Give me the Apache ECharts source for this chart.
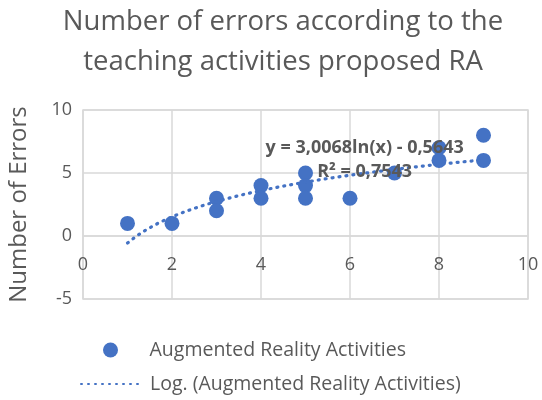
<!DOCTYPE html>
<html><head><meta charset="utf-8">
<script src="https://cdn.jsdelivr.net/npm/echarts@6/dist/echarts.min.js"></script>
<style>html,body{margin:0;padding:0;background:#fff}#c{width:542px;height:400px}</style>
</head><body><div id="c"></div>
<script>
// Data
const activityX = [1, 2, 3, 3, 4, 4, 5, 5, 5, 6, 7, 8, 8, 9, 9];
const errorsY   = [1, 1, 3, 2, 4, 3, 5, 4, 3, 3, 5, 7, 6, 8, 6];
const xTicks = [0, 2, 4, 6, 8, 10];
const yTicks = [-5, 0, 5, 10];
// Trendline coefficients as printed on the chart
const trendA = 3.0068;
const trendB = -0.5643;
const trendR2 = 0.7543;
const titleLines = ['Number of errors according to the', 'teaching activities proposed RA'];
const seriesName = 'Augmented Reality Activities';
const trendName = 'Log. (Augmented Reality Activities)';

const fmt = v => v.toFixed(4).replace('.', ',');
const xMin = Math.min(...activityX), xMax = Math.max(...activityX);
const trendData = [];
for (let i = 0; i <= 80; i++) {
  const x = xMin + (xMax - xMin) * i / 80;
  trendData.push([x, trendA * Math.log(x) + trendB]);
}
const FONT = 'Open Sans';
const GRAY = '#595959';
const BLUE = '#4472C4';
const chart = echarts.init(document.getElementById('c'), null, {renderer: 'canvas'});
const legendText = {fontSize: 19.5, color: GRAY, fontFamily: FONT, padding: [0, 0, 0, 4]};
chart.setOption({
  animation: false,
  textStyle: {fontFamily: FONT},
  graphic: [
    {type: 'text', x: 283, y: 22, style: {text: titleLines[0], align: 'center', verticalAlign: 'middle', font: '27.5px "' + FONT + '"', fill: GRAY}},
    {type: 'text', x: 283, y: 62, style: {text: titleLines[1], align: 'center', verticalAlign: 'middle', font: '27.5px "' + FONT + '"', fill: GRAY}}
  ],
  grid: {left: 83, top: 110, right: 14, bottom: 101, show: true, borderColor: '#d9d9d9', borderWidth: 1.5, outerBoundsMode: 'none', containLabel: false},
  legend: [
    {left: 103, top: 340, padding: 0, itemWidth: 60, itemHeight: 15, textStyle: legendText,
     data: [{name: seriesName, icon: 'circle'}]},
    {left: 80, top: 374, padding: 0, itemWidth: 60, itemHeight: 15, textStyle: legendText,
     data: [{name: trendName, itemStyle: {opacity: 0}}]}
  ],
  xAxis: {
    type: 'value', min: xTicks[0], max: xTicks[xTicks.length - 1], interval: xTicks[1] - xTicks[0],
    position: 'bottom', offset: -63,
    axisLine: {onZero: false, lineStyle: {color: '#d9d9d9', width: 1.5}},
    axisTick: {show: false},
    axisLabel: {color: GRAY, fontSize: 18, fontFamily: FONT, margin: 20},
    splitLine: {show: true, lineStyle: {color: '#d9d9d9', width: 1.5}}
  },
  yAxis: {
    type: 'value', min: yTicks[0], max: yTicks[yTicks.length - 1], interval: yTicks[1] - yTicks[0],
    name: 'Number of Errors', nameLocation: 'middle', nameGap: 52, nameRotate: 90,
    nameTextStyle: {color: GRAY, fontSize: 24, fontFamily: FONT},
    axisLine: {show: false}, axisTick: {show: false},
    axisLabel: {color: GRAY, fontSize: 18, fontFamily: FONT, margin: 11},
    splitLine: {show: true, lineStyle: {color: '#d9d9d9', width: 1.5}}
  },
  series: [
    {
      name: seriesName, type: 'scatter', symbol: 'circle', symbolSize: 15,
      itemStyle: {color: BLUE, opacity: 1},
      data: activityX.map((x, i) => [x, errorsY[i]]), z: 3
    },
    {
      name: trendName, type: 'line', showSymbol: false, symbol: 'none', smooth: false,
      itemStyle: {color: BLUE},
      lineStyle: {color: BLUE, width: 3.2, type: [1, 6], cap: 'round'},
      data: trendData, z: 4,
      markPoint: {
        silent: true, symbol: 'rect', symbolSize: 0,
        data: [{coord: [6.33, 6.05], label: {show: true, formatter: 'y = ' + fmt(trendA) + 'ln(x) - ' + fmt(Math.abs(trendB)) + '\n' + 'R² = ' + fmt(trendR2),
          color: GRAY, fontWeight: 'bold', fontSize: 18, fontFamily: FONT, lineHeight: 24, align: 'center', verticalAlign: 'middle'}}]
      }
    }
  ]
});
</script></body></html>
